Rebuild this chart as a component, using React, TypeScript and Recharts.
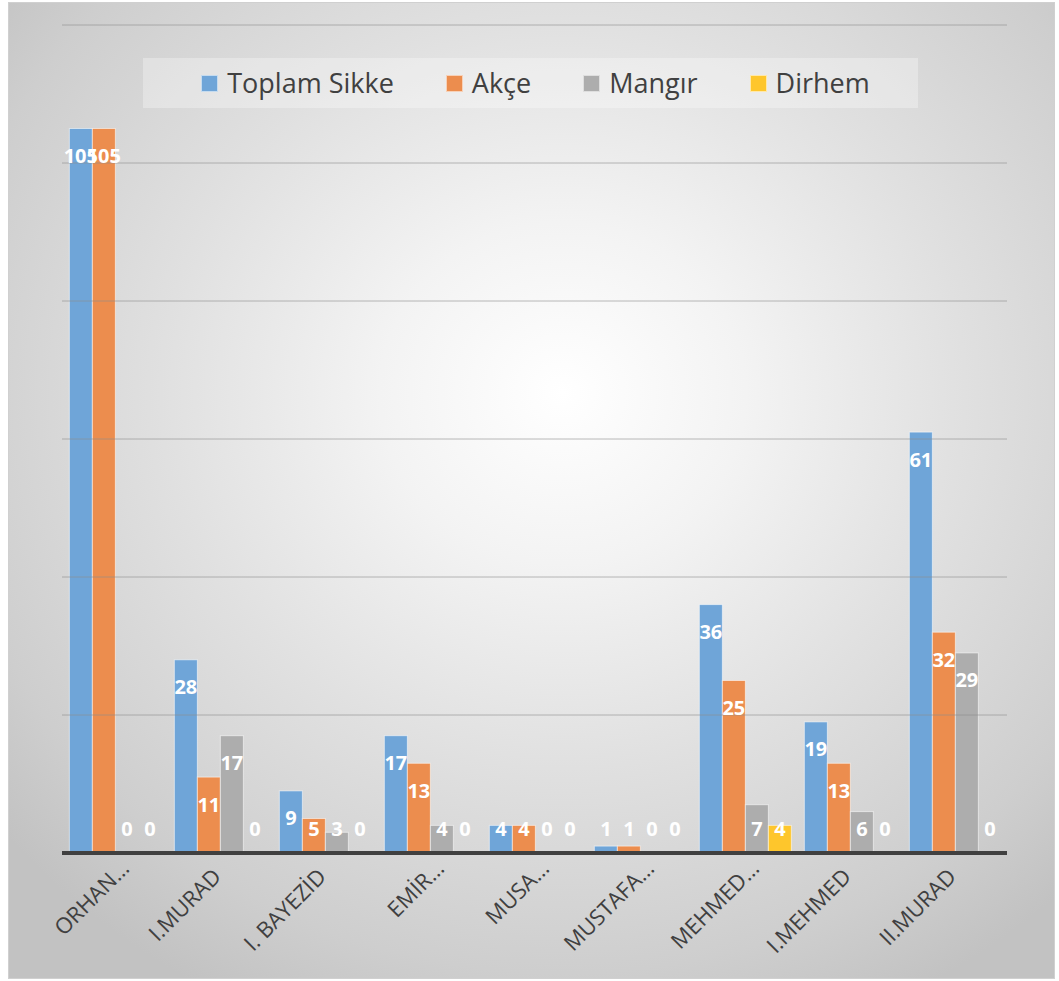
import React from 'react';
import { Bar, BarChart, LabelList, ReferenceLine, XAxis, YAxis } from 'recharts';

const categories = ['ORHAN…', 'I.MURAD', 'I. BAYEZİD', 'EMİR…', 'MUSA…', 'MUSTAFA…', 'MEHMED…', 'I.MEHMED', 'II.MURAD'];
const toplamSikke = [105, 28, 9, 17, 4, 1, 36, 19, 61];
const akce = [105, 11, 5, 13, 4, 1, 25, 13, 32];
const mangir = [0, 17, 3, 4, 0, 0, 7, 6, 29];
const dirhem = [0, 0, 0, 0, 0, 0, 4, 0, 0];
const gridTicks = [20, 40, 60, 80, 100, 120];

const series = [
  { key: 'toplam', name: 'Toplam Sikke', color: '#6fa5d8' },
  { key: 'akce', name: 'Akçe', color: '#ec8d4e' },
  { key: 'mangir', name: 'Mangır', color: '#adadad' },
  { key: 'dirhem', name: 'Dirhem', color: '#fec62c' },
];

const data = categories.map((name, i) => ({
  name,
  toplam: toplamSikke[i],
  akce: akce[i],
  mangir: mangir[i],
  dirhem: dirhem[i],
}));

const font = '"Open Sans", sans-serif';

// zero bars still get a (hairline) rect so their "0" label is drawn, but the rect itself is skipped
const BarShape = (props: any) => {
  const { x, y, width, height, fill } = props;
  if (!(height >= 0.5)) return <g />;
  return <rect x={x} y={y} width={width} height={height} fill={fill} stroke="rgba(255,255,255,0.55)" strokeWidth={1} />;
};

const BarValueLabel = (props: any) => {
  const { x, y, width, height, value } = props;
  const cy = Math.min(y + 27, y + height - 25);
  return (
    <text x={x + width / 2} y={cy} textAnchor="middle" dominantBaseline="central" fill="#fff" fontWeight={700} fontSize={20} fontFamily={font}>
      {value}
    </text>
  );
};

const AxisTick = (props: any) => {
  const { x, y, payload } = props;
  const cut = String(payload.value).endsWith('…');
  const dx = cut ? 16 : 3;
  const dy = cut ? 17 : 25;
  return (
    <g transform={`translate(${x + dx},${y + dy})`}>
      <text textAnchor="end" transform="rotate(-45)" fill="#404040" fontSize={22} fontFamily={font}>
        {payload.value}
      </text>
    </g>
  );
};

export default function App() {
  return (
    <>
      <style>{'body{margin:0}'}</style>
      <div
        style={{
          position: 'absolute',
          left: 8,
          top: 2,
          width: 1047,
          height: 977,
          boxSizing: 'border-box',
          border: '1px solid #d0d0d0',
          background: 'radial-gradient(ellipse 70% 70% at 53% 40%, #ffffff 0%, #f3f3f3 25%, #e0e0e0 55%, #cecece 85%, #c2c2c2 100%)',
        }}
      >
        <BarChart width={1045} height={975} data={data} margin={{ top: 22, right: 47, left: 53, bottom: 0 }} barCategoryGap="7%" barGap={0}>
          <YAxis hide domain={[0, 120]} ticks={gridTicks} />
          <XAxis
            dataKey="name"
            height={125}
            interval={0}
            tickLine={false}
            tickSize={0}
            tickMargin={0}
            axisLine={{ stroke: '#404040', strokeWidth: 4 }}
            tick={<AxisTick />}
          />
          {series.map(s => (
            <Bar key={s.key} dataKey={s.key} name={s.name} fill={s.color} minPointSize={0.01} shape={BarShape} isAnimationActive={false}>
              <LabelList dataKey={s.key} content={BarValueLabel} />
            </Bar>
          ))}
          {gridTicks.map(t => (
            <ReferenceLine key={t} y={t} stroke="#8c8c8c" strokeOpacity={0.6} strokeWidth={1} />
          ))}
        </BarChart>
        <div
          style={{
            position: 'absolute',
            left: 134,
            top: 55,
            width: 775,
            height: 50,
            boxSizing: 'border-box',
            paddingLeft: 10,
            background: 'rgba(255,255,255,0.3)',
            display: 'flex',
            alignItems: 'center',
            justifyContent: 'center',
            fontFamily: font,
            fontSize: 27,
            color: '#404040',
          }}
        >
          {series.map((s, i) => (
            <div key={s.key} style={{ display: 'flex', alignItems: 'center', marginRight: i < series.length - 1 ? 52 : 0 }}>
              <span style={{ width: 17, height: 17, boxSizing: 'border-box', background: s.color, border: '1px solid rgba(255,255,255,0.6)' }} />
              <span style={{ marginLeft: 9, lineHeight: '50px' }}>{s.name}</span>
            </div>
          ))}
        </div>
      </div>
    </>
  );
}
